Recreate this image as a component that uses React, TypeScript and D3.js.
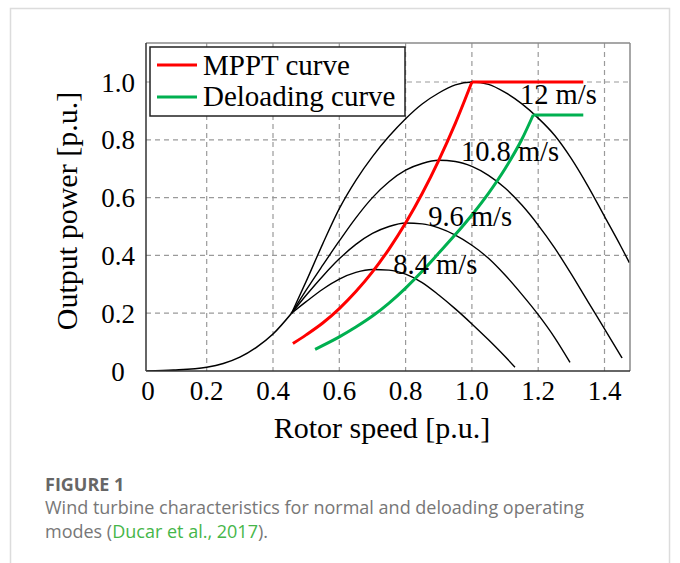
import React from "react";
import * as d3 from "d3";

// ---- data ----
const xTicks = [0, 0.2, 0.4, 0.6, 0.8, 1.0, 1.2, 1.4];
const xTickLabels = ["0", "0.2", "0.4", "0.6", "0.8", "1.0", "1.2", "1.4"];
const yTicks = [0, 0.2, 0.4, 0.6, 0.8, 1.0];
const yTickLabels = ["0", "0.2", "0.4", "0.6", "0.8", "1.0"];

// common low-speed part of all turbine curves
const baseSpeed = [0.02, 0.1, 0.2, 0.25, 0.3, 0.35, 0.4, 0.456];
const basePower = [0, 0.003, 0.013, 0.026, 0.048, 0.082, 0.128, 0.2];

const speed12 = [0.456, 0.5, 0.55, 0.6, 0.65, 0.7, 0.75, 0.8, 0.85, 0.9, 0.95, 1.0, 1.05, 1.1, 1.15, 1.2, 1.25, 1.3, 1.35, 1.4, 1.45, 1.475];
const power12 = [0.2, 0.31, 0.44, 0.562, 0.66, 0.742, 0.812, 0.873, 0.924, 0.962, 0.99, 1.0, 0.992, 0.964, 0.925, 0.875, 0.815, 0.735, 0.64, 0.535, 0.43, 0.375];

const speed108 = [0.456, 0.5, 0.55, 0.6, 0.65, 0.7, 0.75, 0.8, 0.85, 0.9, 0.95, 1.0, 1.05, 1.1, 1.15, 1.2, 1.25, 1.3, 1.35, 1.4, 1.453];
const power108 = [0.2, 0.28, 0.366, 0.45, 0.53, 0.6, 0.655, 0.695, 0.718, 0.729, 0.725, 0.708, 0.677, 0.633, 0.575, 0.505, 0.425, 0.335, 0.24, 0.146, 0.045];

const speed96 = [0.456, 0.5, 0.55, 0.6, 0.65, 0.7, 0.75, 0.8, 0.85, 0.9, 0.95, 1.0, 1.05, 1.1, 1.15, 1.2, 1.25, 1.296];
const power96 = [0.2, 0.262, 0.328, 0.388, 0.438, 0.476, 0.5, 0.512, 0.509, 0.495, 0.47, 0.435, 0.39, 0.332, 0.266, 0.195, 0.115, 0.03];

const speed84 = [0.456, 0.5, 0.55, 0.6, 0.65, 0.7, 0.75, 0.8, 0.85, 0.9, 0.95, 1.0, 1.05, 1.1, 1.13];
const power84 = [0.2, 0.24, 0.283, 0.318, 0.341, 0.351, 0.349, 0.335, 0.306, 0.263, 0.215, 0.163, 0.108, 0.05, 0.013];

const mpptSpeed = [0.46, 0.5, 0.55, 0.6, 0.65, 0.7, 0.75, 0.8, 0.85, 0.9, 0.95, 1.0];
const mpptPower = [0.095, 0.125, 0.166, 0.216, 0.275, 0.343, 0.422, 0.512, 0.614, 0.729, 0.857, 1.0];
const mpptLimitEnd = 1.336;

const deloadSpeed = [0.527, 0.6, 0.65, 0.7, 0.75, 0.8, 0.85, 0.9, 0.95, 1.0, 1.05, 1.1, 1.15, 1.185];
const deloadPower = [0.075, 0.118, 0.152, 0.19, 0.235, 0.287, 0.345, 0.408, 0.472, 0.54, 0.615, 0.7, 0.8, 0.886];
const deloadLimitEnd = 1.336;

const windLabels = ["12 m/s", "10.8 m/s", "9.6 m/s", "8.4 m/s"];
const windLabelSpeed = [1.145, 0.967, 0.868, 0.763];
const windLabelPower = [0.924, 0.727, 0.502, 0.335];

const legendLabels = ["MPPT curve", "Deloading curve"];
const legendColors = ["#ff0000", "#00b050"];

const xTitle = "Rotor speed [p.u.]";
const yTitle = "Output power [p.u.]";

// ---- layout ----
const W = 680;
const H = 563;
const plotLeft = 146;
const plotRight = 630;
const plotTop = 43;
const plotBottom = 371;

const SERIF = "'Liberation Serif', 'Times New Roman', serif";
const SANS = "'Open Sans', Lato, sans-serif";

export default function App() {
  const x = d3.scaleLinear().domain([0, 1.4]).range([140.4, 604.5]);
  const y = d3.scaleLinear().domain([0, 1]).range([371, 82]);

  const line = d3
    .line<[number, number]>()
    .x((d) => x(d[0]))
    .y((d) => y(d[1]))
    .curve(d3.curveMonotoneX);
  const straight = d3
    .line<[number, number]>()
    .x((d) => x(d[0]))
    .y((d) => y(d[1]));

  const zip = (a: number[], b: number[]) => a.map((v, i) => [v, b[i]] as [number, number]);

  const windCurves = [
    zip(speed12, power12),
    zip(speed108, power108),
    zip(speed96, power96),
    zip(speed84, power84),
  ];

  const mppt = zip(mpptSpeed, mpptPower);
  const deload = zip(deloadSpeed, deloadPower);
  const mpptFlat: [number, number][] = [
    mppt[mppt.length - 1],
    [mpptLimitEnd, mpptPower[mpptPower.length - 1]],
  ];
  const deloadFlat: [number, number][] = [
    deload[deload.length - 1],
    [deloadLimitEnd, deloadPower[deloadPower.length - 1]],
  ];

  const gridColor = "#9a9a9a";

  return (
    <svg
      width={W}
      height={H}
      viewBox={`0 0 ${W} ${H}`}
      style={{ position: "absolute", left: 0, top: 0, background: "#fff" }}
    >
      <rect x={0} y={0} width={W} height={H} fill="#fff" />
      {/* outer card border */}
      <rect x={10.5} y={8.5} width={659} height={H + 20} fill="none" stroke="#dcdcdc" strokeWidth={1.5} />

      <defs>
        <clipPath id="plotClip">
          <rect x={plotLeft} y={plotTop} width={plotRight - plotLeft} height={plotBottom - plotTop} />
        </clipPath>
      </defs>

      {/* grid */}
      {xTicks
        .filter((t) => t > 0)
        .map((t) => (
          <line
            key={"gx" + t}
            x1={x(t)}
            x2={x(t)}
            y1={plotTop}
            y2={plotBottom}
            stroke={gridColor}
            strokeWidth={1.2}
            strokeDasharray="5,4"
          />
        ))}
      {yTicks
        .filter((t) => t > 0)
        .map((t) => (
          <line
            key={"gy" + t}
            x1={plotLeft}
            x2={plotRight}
            y1={y(t)}
            y2={y(t)}
            stroke={gridColor}
            strokeWidth={1.2}
            strokeDasharray="5,4"
          />
        ))}

      <g clipPath="url(#plotClip)" fill="none">
        <path d={line(zip(baseSpeed, basePower)) || ""} stroke="#000" strokeWidth={1.6} />
        {windCurves.map((c, i) => (
          <path key={"w" + i} d={line(c) || ""} stroke="#000" strokeWidth={1.4} />
        ))}
        <path d={line(mppt) || ""} stroke={legendColors[0]} strokeWidth={3} />
        <path d={straight(mpptFlat) || ""} stroke={legendColors[0]} strokeWidth={3} />
        <path d={line(deload) || ""} stroke={legendColors[1]} strokeWidth={3} />
        <path d={straight(deloadFlat) || ""} stroke={legendColors[1]} strokeWidth={3} />
      </g>

      {/* wind speed labels */}
      {windLabels.map((l, i) => (
        <text
          key={l}
          x={x(windLabelSpeed[i])}
          y={y(windLabelPower[i])}
          fontFamily={SERIF}
          fontSize={28.5}
          fill="#000"
        >
          {l}
        </text>
      ))}

      {/* frame */}
      <line x1={plotLeft} x2={plotRight} y1={plotTop} y2={plotTop} stroke="#8a8a8a" strokeWidth={1.5} />
      <line x1={plotRight} x2={plotRight} y1={plotTop} y2={plotBottom} stroke="#8a8a8a" strokeWidth={1.5} />
      <line x1={plotLeft} x2={plotLeft} y1={plotTop} y2={plotBottom} stroke="#333" strokeWidth={1.5} />
      <line x1={plotLeft} x2={plotRight} y1={plotBottom} y2={plotBottom} stroke="#333" strokeWidth={1.5} />

      {/* legend */}
      <rect x={150} y={47} width={255} height={69} fill="#fff" stroke="#222" strokeWidth={1.5} />
      {legendLabels.map((l, i) => (
        <g key={l}>
          <line x1={157} x2={197} y1={65 + i * 32} y2={65 + i * 32} stroke={legendColors[i]} strokeWidth={3} />
          <text x={203} y={75 + i * 30.5} fontFamily={SERIF} fontSize={29} fill="#000">
            {l}
          </text>
        </g>
      ))}

      {/* x tick labels */}
      {xTicks.map((t, i) => (
        <text
          key={"xt" + t}
          x={Math.max(x(t), 148)}
          y={400}
          textAnchor="middle"
          fontFamily={SERIF}
          fontSize={27}
          fill="#000"
        >
          {xTickLabels[i]}
        </text>
      ))}
      {/* y tick labels */}
      {yTicks.map((t, i) => (
        <text
          key={"yt" + t}
          x={118}
          y={y(t) + 9.5}
          textAnchor="middle"
          fontFamily={SERIF}
          fontSize={27}
          fill="#000"
        >
          {yTickLabels[i]}
        </text>
      ))}

      {/* axis titles */}
      <text x={382} y={438} textAnchor="middle" fontFamily={SERIF} fontSize={30} fill="#000">
        {xTitle}
      </text>
      <text
        transform={`translate(77, 211) rotate(-90)`}
        textAnchor="middle"
        fontFamily={SERIF}
        fontSize={30}
        fill="#000"
      >
        {yTitle}
      </text>

      {/* caption */}
      <text x={45} y={491} fontFamily={SANS} fontWeight={700} fontSize={18} fill="#666">
        FIGURE 1
      </text>
      <text fontFamily={SANS} fontSize={18} fill="#777">
        <tspan x={45} y={514}>Wind turbine characteristics for normal and deloading operating</tspan>
        <tspan x={45} y={538}>
          modes (<tspan fill="#45b649">Ducar et al., 2017</tspan>).
        </tspan>
      </text>
    </svg>
  );
}
